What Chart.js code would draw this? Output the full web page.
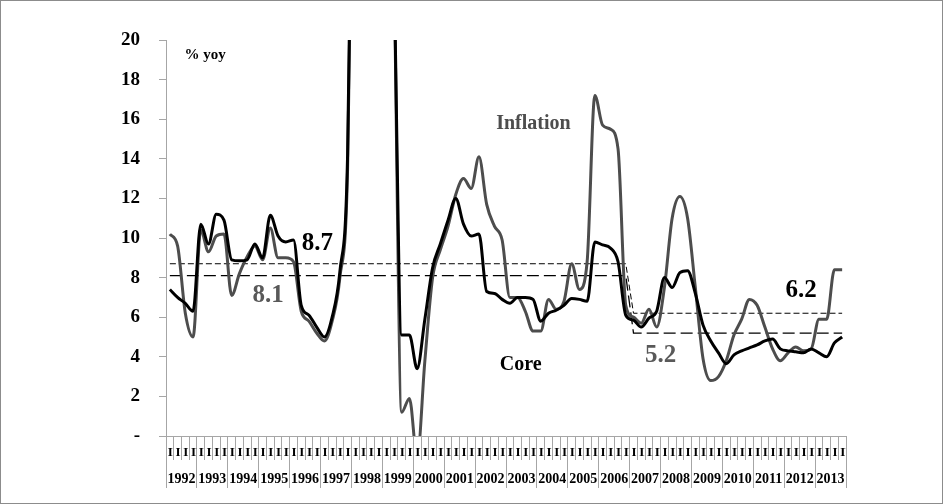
<!DOCTYPE html>
<html>
<head>
<meta charset="utf-8">
<script src="https://cdn.jsdelivr.net/npm/chart.js@4.4.1/dist/chart.umd.min.js"></script>
<style>
  html, body { margin: 0; padding: 0; background: #fff; }
  canvas { display: block; }
</style>
</head>
<body>
<canvas id="chart" width="943" height="504"></canvas>
<script>
// quarterly, 1992 I .. 2013 IV, % yoy
const years = ['1992', '1993', '1994', '1995', '1996', '1997', '1998', '1999', '2000', '2001', '2002',
               '2003', '2004', '2005', '2006', '2007', '2008', '2009', '2010', '2011', '2012', '2013'];
const quarters = ['I', 'II', 'III', 'IV'];

const inflation = [
  10.2, 9.6, 6.2, 5.0,    10.4, 9.3, 10.1, 10.2,   7.1, 8.2, 9.05, 9.6,    8.9, 10.5, 9.0, 9.0,
  8.8, 6.3, 5.8, 5.2,     4.8, 5.8, 8.0, 13.5,     40, 55, 80, 78,         45, 24, 1.2, 1.9,
  -1.1, 3.8, 8.0, 9.4,    10.6, 12.2, 13.0, 12.5,  14.1, 11.7, 10.6, 9.9,  7.0, 7.0, 6.3, 5.3,
  5.3, 6.9, 6.4, 6.8,     8.7, 7.4, 8.8, 17.2,     15.7, 15.5, 14.5, 6.6,  6.0, 5.7, 6.4, 5.5,
  7.5, 11.0, 12.1, 11.0,  7.5, 3.9, 2.8, 3.0,      3.8, 5.1, 5.9, 6.9,     6.6, 5.5, 4.4, 3.8,
  4.2, 4.5, 4.3, 4.4,     5.9, 5.9, 8.4, 8.4
];
const core = [
  7.4, 7.0, 6.7, 6.3,     10.7, 9.7, 11.2, 10.9,   8.9, 8.85, 8.9, 9.7,    9.0, 11.15, 10.1, 9.8,
  9.9, 6.6, 6.1, 5.5,     5.0, 6.0, 8.3, 14.2,     42, 58, 78, 74,         46, 24, 5.1, 5.1,
  3.4, 5.9, 8.5, 9.7,     10.9, 12.0, 10.7, 10.1,  10.2, 7.3, 7.2, 6.9,    6.7, 7.0, 7.0, 6.9,
  5.8, 6.2, 6.35, 6.6,    6.95, 6.9, 6.8, 9.8,     9.65, 9.5, 8.8, 6.1,    5.85, 5.5, 5.95, 6.3,
  8.0, 7.5, 8.25, 8.35,   7.2, 5.6, 4.8, 4.2,      3.65, 4.1, 4.3, 4.45,   4.6, 4.8, 4.9, 4.4,
  4.3, 4.25, 4.2, 4.4,    4.2, 4.0, 4.7, 5.0
];

// period averages: 1992 I - 2006 IV and 2007 I - 2013 IV (quarter index of each corner)
const meanX = [0, 59, 60, 87];
const coreMean = [8.7, 8.7, 6.2, 6.2];
const inflationMean = [8.1, 8.1, 5.2, 5.2];

const yTickLabels = ['-', '2', '4', '6', '8', '10', '12', '14', '16', '18', '20'];

const labels = [];
years.forEach(() => quarters.forEach(q => labels.push(q)));

// the averages only have corner points, the rest is bridged
function cornerSeries(values) {
  const s = labels.map(() => null);
  meanX.forEach((xi, k) => { s[xi] = values[k]; });
  return s;
}

// text on the plot, placed in data coordinates (quarter index, value)
const notes = [
  { text: '% yoy', i: 4.55, v: 19.22, color: '#000', font: 'bold 15px "Liberation Serif"' },
  { text: '8.7', i: 19.1, v: 9.72, color: '#000', font: 'bold 25px "Liberation Serif"' },
  { text: '8.1', i: 12.7, v: 7.07, color: '#595959', font: 'bold 25px "Liberation Serif"' },
  { text: 'Inflation', i: 47.05, v: 15.76, color: '#4d4d4d', font: 'bold 20px "Liberation Serif"' },
  { text: 'Core', i: 45.4, v: 3.61, color: '#000', font: 'bold 20px "Liberation Serif"' },
  { text: '5.2', i: 63.5, v: 4.07, color: '#595959', font: 'bold 25px "Liberation Serif"' },
  { text: '6.2', i: 81.7, v: 7.37, color: '#000', font: 'bold 25px "Liberation Serif"' }
];

const axisGray = '#a6a6a6';

const decor = {
  id: 'decor',
  beforeDraw(chart) {
    const ctx = chart.ctx;
    ctx.save();
    ctx.fillStyle = '#fff';
    ctx.fillRect(0, 0, chart.width, chart.height);
    ctx.restore();
  },
  afterDraw(chart) {
    const ctx = chart.ctx;
    const x = chart.scales.x;
    const y = chart.scales.y;
    const w = x.width / x.ticks.length;

    // quarter labels, cut to their own cell like the original
    ctx.save();
    ctx.font = 'bold 13px "Liberation Serif"';
    ctx.fillStyle = '#000';
    ctx.textAlign = 'left';
    ctx.textBaseline = 'middle';
    x.ticks.forEach((t, i) => {
      const px = x.getPixelForTick(i);
      ctx.save();
      ctx.beginPath();
      ctx.rect(px - w / 2 + 0.5, x.top + 1, w - 1, x.height);
      ctx.clip();
      ctx.fillText(x.getLabelForValue(i), px - 2, x.top + 17);
      ctx.restore();
    });
    ctx.restore();

    ctx.save();
    ctx.textAlign = 'center';
    ctx.textBaseline = 'middle';
    notes.forEach(n => {
      ctx.font = n.font;
      ctx.fillStyle = n.color;
      ctx.fillText(n.text, x.getPixelForValue(n.i), y.getPixelForValue(n.v));
    });
    ctx.restore();

    ctx.save();
    ctx.strokeStyle = '#8c8c8c';
    ctx.lineWidth = 1;
    ctx.strokeRect(0.5, 0.5, chart.width - 1, chart.height - 1);
    ctx.restore();
  }
};

new Chart(document.getElementById('chart'), {
  type: 'line',
  data: {
    labels: labels,
    datasets: [
      {
        label: 'Core',
        data: core,
        borderColor: '#000',
        borderWidth: 3,
        pointRadius: 0,
        cubicInterpolationMode: 'monotone'
      },
      {
        label: 'Inflation',
        data: inflation,
        borderColor: '#4d4d4d',
        borderWidth: 3,
        pointRadius: 0,
        cubicInterpolationMode: 'monotone'
      },
      {
        label: 'Core average',
        data: cornerSeries(coreMean),
        spanGaps: true,
        borderColor: '#000',
        borderWidth: 1,
        borderDash: [6, 3],
        pointRadius: 0,
        tension: 0
      },
      {
        label: 'Inflation average',
        data: cornerSeries(inflationMean),
        spanGaps: true,
        borderColor: '#000',
        borderWidth: 1.3,
        borderDash: [12, 5],
        pointRadius: 0,
        tension: 0
      }
    ]
  },
  options: {
    responsive: false,
    animation: false,
    events: [],
    layout: { padding: { left: 0, right: 97, top: 40, bottom: 16 } },
    plugins: {
      legend: { display: false },
      tooltip: { enabled: false }
    },
    scales: {
      x: {
        type: 'category',
        position: 'bottom',
        weight: 0,
        offset: true,
        grid: { offset: true, drawOnChartArea: false, tickLength: 24, color: axisGray },
        border: { color: axisGray },
        ticks: { display: false, autoSkip: false },
        afterFit: s => { s.height = 24; }
      },
      year: {
        type: 'category',
        position: 'bottom',
        weight: 1,
        labels: years,
        offset: true,
        grid: { offset: true, drawOnChartArea: false, tickLength: 28, color: axisGray },
        border: { display: false },
        ticks: {
          autoSkip: false,
          maxRotation: 0,
          padding: -17,
          color: '#000',
          font: { family: 'Liberation Serif', size: 14, weight: 'bold' }
        },
        afterFit: s => { s.height = 28; }
      },
      y: {
        min: 0,
        max: 20,
        grid: { drawOnChartArea: false, tickLength: 7, color: axisGray },
        border: { color: axisGray },
        ticks: {
          stepSize: 2,
          padding: 19,
          color: '#000',
          font: { family: 'Liberation Serif', size: 19, weight: 'bold' },
          callback: (v, idx) => yTickLabels[idx]
        },
        afterFit: s => { s.width = 166; }
      }
    }
  },
  plugins: [decor]
});
</script>
</body>
</html>
